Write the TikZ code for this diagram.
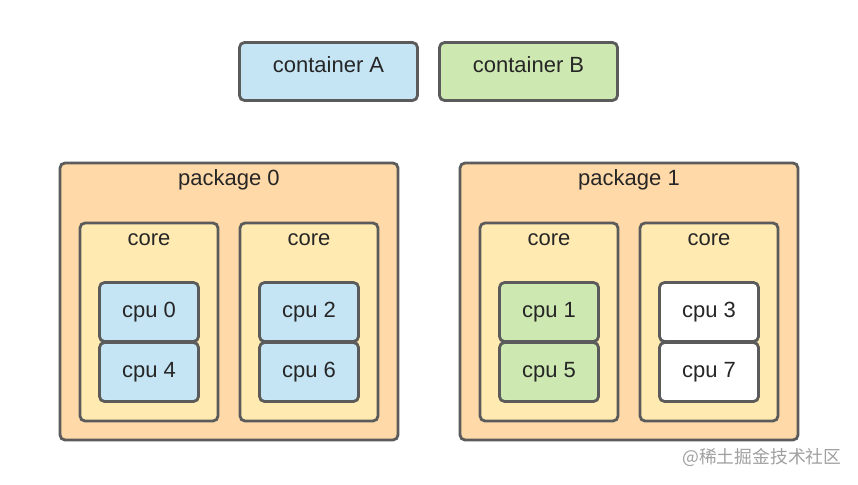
\documentclass[tikz,border=0pt]{standalone}
\usepackage{fontspec}
\setmainfont{Liberation Sans}
\newfontfamily\cjk{Noto Sans CJK SC}
\definecolor{edgec}{HTML}{5B5B5B}
\definecolor{cblue}{HTML}{C5E5F5}
\definecolor{cgreen}{HTML}{CDE8B0}
\definecolor{cpkg}{HTML}{FFD9A8}
\definecolor{ccore}{HTML}{FFEBB2}
\definecolor{ctext}{HTML}{262626}
\definecolor{cmark}{HTML}{A0A0A0}
\begin{document}
\begin{tikzpicture}[x=1pt,y=-1pt,
  box/.style={draw=edgec, line width=2.8pt, rounded corners=5pt, inner sep=0pt, outer sep=0pt},
  cont/.style={box, minimum width=178pt, minimum height=58pt},
  pkg/.style={box, fill=cpkg, minimum width=338pt, minimum height=277pt},
  corebox/.style={box, fill=ccore, minimum width=138pt, minimum height=198pt},
  cpubox/.style={box, minimum width=99pt, minimum height=59pt},
  lbl/.style={anchor=base, inner sep=0pt, text=ctext, font=\fontsize{22}{26}\selectfont}]
\useasboundingbox (0,0) rectangle (858,484);
\fill[white] (0,0) rectangle (858,484);
% containers
\node[cont, fill=cblue] (ca) at (328.5,71.5) {};
\node[cont, fill=cgreen] (cb) at (528.5,71.5) {};
\node[lbl] (cat) at (328.5,73) {container A};
\node[lbl] (cbt) at (528.5,73) {container B};
% packages
\node[pkg] (p0) at (229,301.5) {};
\node[pkg] (p1) at (629,301.5) {};
\node[lbl] (p0t) at (229,185) {package 0};
\node[lbl] (p1t) at (629,185) {package 1};
% cores
\foreach \n/\x in {c0/149,c1/309,c2/549,c3/709}{
  \node[corebox] (\n) at (\x,322) {};
  \node[lbl] (\n t) at (\x,245) {core};
}
% cpus
\foreach \n/\x/\y/\c/\t in {u0/149/312/cblue/0, u4/149/372/cblue/4,
                          u2/309/312/cblue/2, u6/309/372/cblue/6,
                          u1/549/312/cgreen/1, u5/549/372/cgreen/5,
                          u3/709/312/white/3, u7/709/372/white/7}{
  \node[cpubox, fill=\c] (\n) at (\x,\y) {};
  \node[lbl] (\n t) at (\x,\y+5) {cpu \t};
}
% watermark
\node[anchor=base west, inner sep=0pt, text=cmark, font=\cjk\fontsize{17.8}{20}\selectfont] (wm) at (682,463.5) {@稀土掘金技术社区};
\end{tikzpicture}
\end{document}
